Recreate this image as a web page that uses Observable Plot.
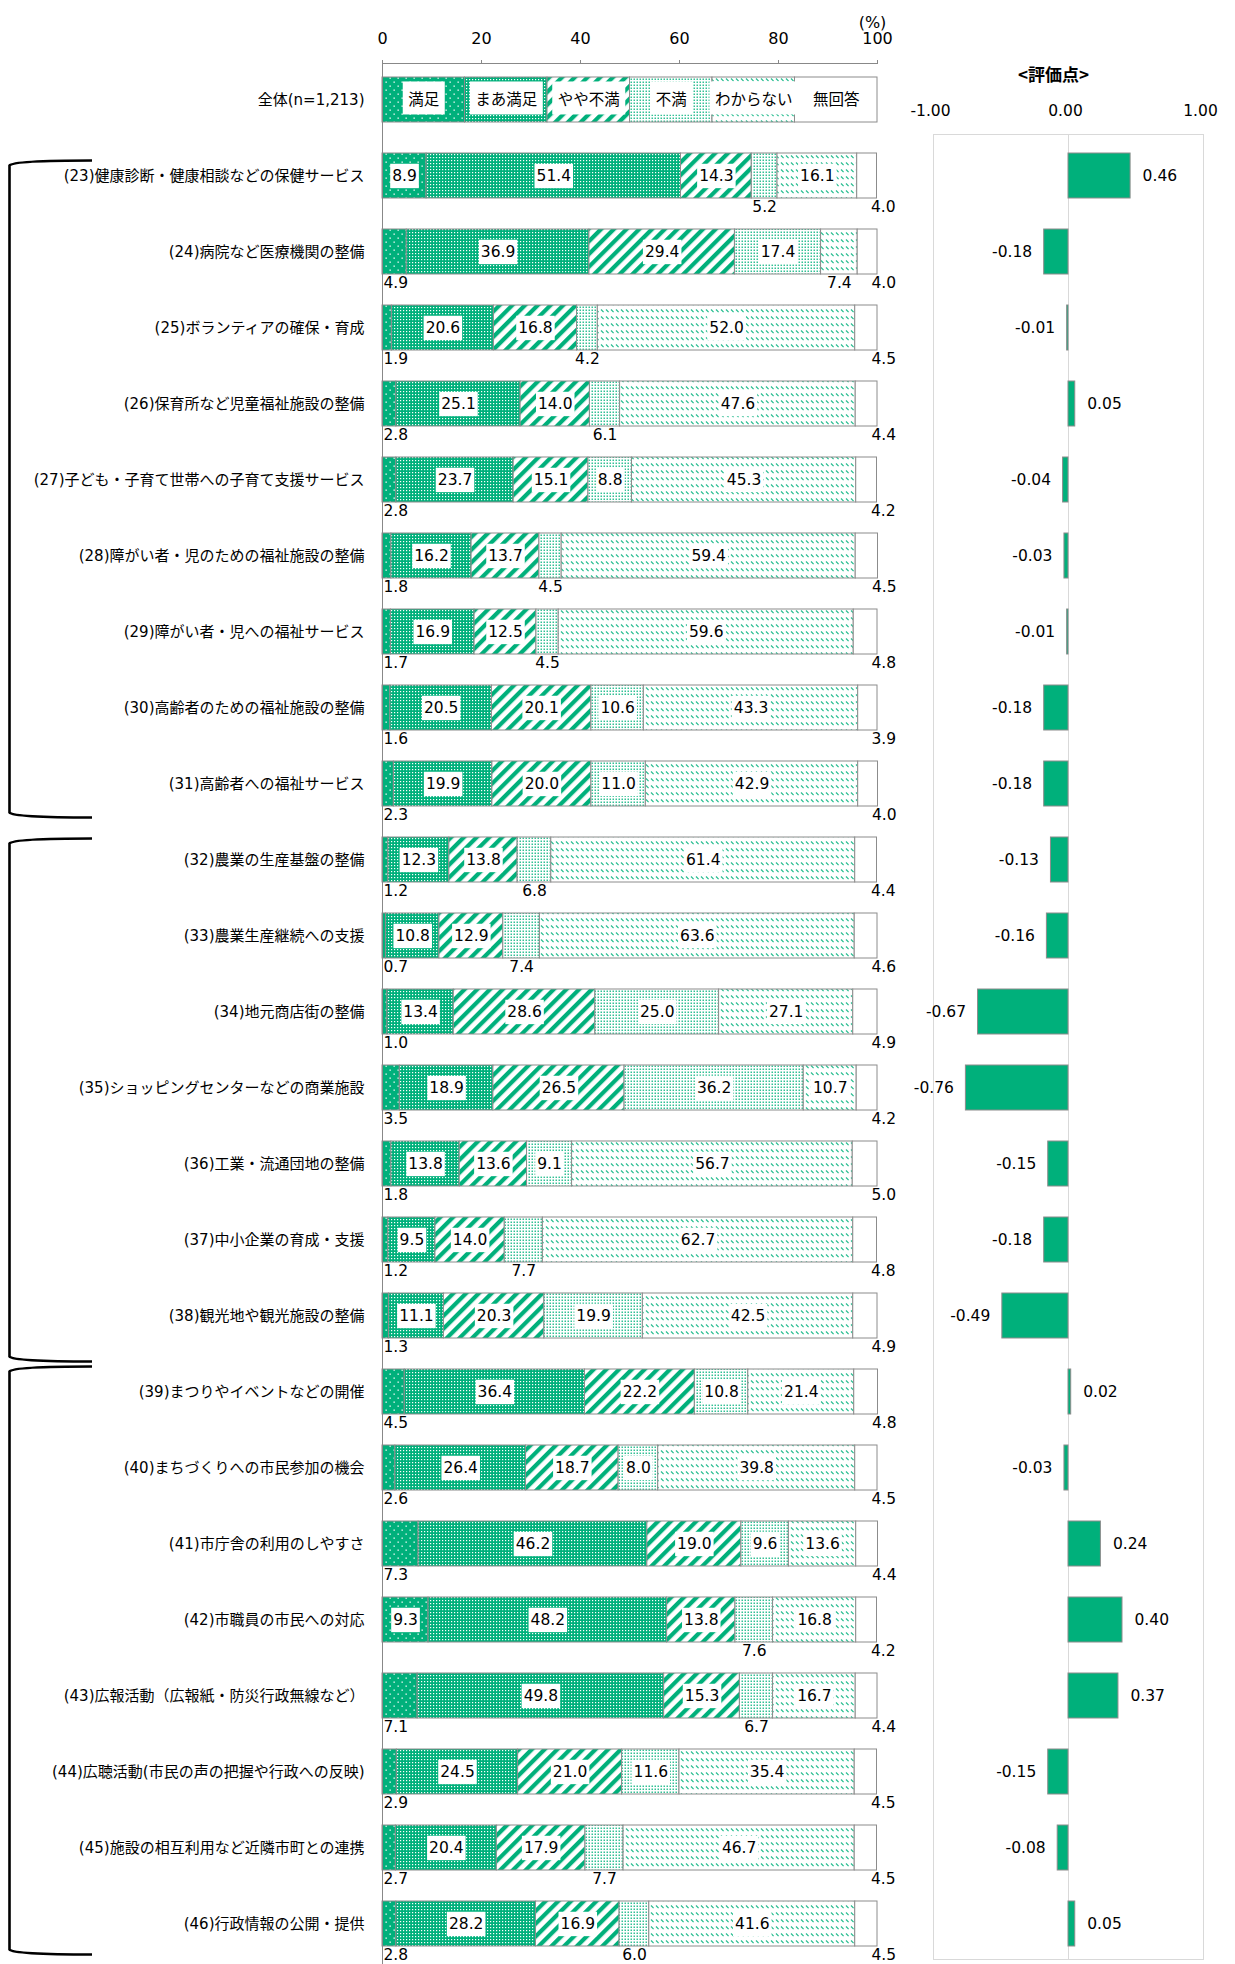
<!DOCTYPE html>
<html><head><meta charset="utf-8">
<script src="https://cdn.jsdelivr.net/npm/d3@7"></script>
<script src="https://cdn.jsdelivr.net/npm/@observablehq/plot@0.6"></script>
<style>
body{margin:0;background:#fff}
#wrap{position:relative;width:1235px;height:1964px;overflow:hidden;background:#fff}
#wrap svg{position:absolute;top:0}
</style>
</head><body><div id="wrap"></div>
<script>
const categories = ["満足","まあ満足","やや不満","不満","わからない","無回答"];
const legendLabel = "全体(n=1,213)";
const items = [
"(23)健康診断・健康相談などの保健サービス",
"(24)病院など医療機関の整備",
"(25)ボランティアの確保・育成",
"(26)保育所など児童福祉施設の整備",
"(27)子ども・子育て世帯への子育て支援サービス",
"(28)障がい者・児のための福祉施設の整備",
"(29)障がい者・児への福祉サービス",
"(30)高齢者のための福祉施設の整備",
"(31)高齢者への福祉サービス",
"(32)農業の生産基盤の整備",
"(33)農業生産継続への支援",
"(34)地元商店街の整備",
"(35)ショッピングセンターなどの商業施設",
"(36)工業・流通団地の整備",
"(37)中小企業の育成・支援",
"(38)観光地や観光施設の整備",
"(39)まつりやイベントなどの開催",
"(40)まちづくりへの市民参加の機会",
"(41)市庁舎の利用のしやすさ",
"(42)市職員の市民への対応",
"(43)広報活動（広報紙・防災行政無線など）",
"(44)広聴活動(市民の声の把握や行政への反映)",
"(45)施設の相互利用など近隣市町との連携",
"(46)行政情報の公開・提供"
];
const satisfied = [8.9,4.9,1.9,2.8,2.8,1.8,1.7,1.6,2.3,1.2,0.7,1.0,3.5,1.8,1.2,1.3,4.5,2.6,7.3,9.3,7.1,2.9,2.7,2.8];
const fairlySatisfied = [51.4,36.9,20.6,25.1,23.7,16.2,16.9,20.5,19.9,12.3,10.8,13.4,18.9,13.8,9.5,11.1,36.4,26.4,46.2,48.2,49.8,24.5,20.4,28.2];
const somewhatDissatisfied = [14.3,29.4,16.8,14.0,15.1,13.7,12.5,20.1,20.0,13.8,12.9,28.6,26.5,13.6,14.0,20.3,22.2,18.7,19.0,13.8,15.3,21.0,17.9,16.9];
const dissatisfied = [5.2,17.4,4.2,6.1,8.8,4.5,4.5,10.6,11.0,6.8,7.4,25.0,36.2,9.1,7.7,19.9,10.8,8.0,9.6,7.6,6.7,11.6,7.7,6.0];
const dontKnow = [16.1,7.4,52.0,47.6,45.3,59.4,59.6,43.3,42.9,61.4,63.6,27.1,10.7,56.7,62.7,42.5,21.4,39.8,13.6,16.8,16.7,35.4,46.7,41.6];
const noAnswer = [4.0,4.0,4.5,4.4,4.2,4.5,4.8,3.9,4.0,4.4,4.6,4.9,4.2,5.0,4.8,4.9,4.8,4.5,4.4,4.2,4.4,4.5,4.5,4.5];
const scores = [0.46,-0.18,-0.01,0.05,-0.04,-0.03,-0.01,-0.18,-0.18,-0.13,-0.16,-0.67,-0.76,-0.15,-0.18,-0.49,0.02,-0.03,0.24,0.40,0.37,-0.15,-0.08,0.05];
const xTicks = [0,20,40,60,80,100];
const scoreTicks = [-1,0,1];
const groups = [
  {from: 0, to: 8, top: -15, bottom: 34},
  {from: 9, to: 15, top: -21, bottom: 46},
  {from: 16, to: 23, top: -25, bottom: 31}
];

const green = "#00b07b";
const cjk = "'Noto Sans CJK JP','Noto Sans',sans-serif";
const num = "'DejaVu Sans','Noto Sans CJK JP',sans-serif";
const patterns = categories.map((c,j) => j === 5 ? "white" : `url(#pat${j})`);
const series = [satisfied, fairlySatisfied, somewhatDissatisfied, dissatisfied, dontKnow, noAnswer];
const rows = items.flatMap((item,i) => categories.map((cat,j) => ({item, cat, j, value: series[j][i]})));
const legendShare = categories.map(() => 100 / categories.length);
const legendRows = categories.map((cat,j) => ({item: legendLabel, cat, j, value: legendShare[j]}));
const scoreRows = items.map((item,i) => ({item, score: scores[i]}));
const yDomain = [legendLabel, ...items];
const yScale = {domain: yDomain, range: [58.9, 1964.9], paddingInner: 0.41, paddingOuter: 0.205};

const bracketMark = (index, scales, values, dimensions) => {
  const g = d3.create("svg:g");
  const bw = scales.y.bandwidth ? scales.y.bandwidth() : 45;
  for (const grp of groups) {
    const T = scales.y(items[grp.from]) + bw/2 + grp.top;
    const B = scales.y(items[grp.to]) + bw/2 + grp.bottom;
    const xl = 9.5, xr = 92;
    g.append("path")
      .attr("d", `M${xr},${T} C${xl+40},${T} ${xl+3},${T+1} ${xl},${T+5} L${xl},${B-5} C${xl+3},${B-1} ${xl+40},${B} ${xr},${B}`)
      .attr("fill","none").attr("stroke","#000").attr("stroke-width",2.6);
  }
  return g.node();
};
const topLine = (index, scales, values, dimensions) => {
  const g = d3.create("svg:g");
  g.append("line")
    .attr("x1", scales.x(xTicks[0])).attr("x2", scales.x(xTicks[xTicks.length-1]))
    .attr("y1", dimensions.marginTop + 0.5).attr("y2", dimensions.marginTop + 0.5)
    .attr("stroke","#888");
  return g.node();
};

const left = Plot.plot({
  width: 900, height: 1964,
  marginLeft: 382, marginRight: 23, marginTop: 63, marginBottom: 0,
  style: {fontFamily: num, fontSize: "15.5px", color: "#000", background: "transparent"},
  color: {type: "identity"},
  x: {domain: [0,100], label: null},
  y: {...yScale, label: null},
  marks: [
    Plot.axisX({anchor: "top", ticks: xTicks, tickSize: 4, tickPadding: 16, fontSize: 16, stroke: "#888", label: null}),
    Plot.axisY({tickSize: 0, tickPadding: 18, fontSize: 15, fontFamily: num, label: null}),
    topLine,
    Plot.barX(legendRows, Plot.stackX({x: "value", y: "item", fill: d => patterns[d.j], stroke: "#8c8c8c", strokeWidth: 1})),
    Plot.barX(rows, Plot.stackX({x: "value", y: "item", fill: d => patterns[d.j], stroke: "#8c8c8c", strokeWidth: 1})),
    Plot.ruleX([0], {stroke: "#888"}),
    Plot.text(legendRows, Plot.stackX({x: "value", y: "item", text: d => d.j < 5 ? d.cat : null, fontFamily: cjk, fontSize: 15.5, className: "boxedLegend", ariaDescription: "boxedLegend"})),
    Plot.text(legendRows, Plot.stackX({x: "value", y: "item", text: d => d.j === 5 ? d.cat : null, fontFamily: cjk, fontSize: 15.5})),
    Plot.text(rows, Plot.stackX({x: "value", y: "item", text: d => d.j < 5 && d.value >= 8 ? d.value.toFixed(1) : null, fontSize: 15.5, className: "boxed", ariaDescription: "boxed"})),
    Plot.text(rows, Plot.stackX({x: "value", y: "item", text: d => d.j > 0 && d.j < 5 && d.value < 8 ? d.value.toFixed(1) : null, fontSize: 15.5, dy: 31})),
    Plot.text(rows, Plot.stackX1({x: "value", y: "item", text: d => d.j === 0 && d.value < 8 ? d.value.toFixed(1) : null, fontSize: 15.5, dy: 31, dx: 1, textAnchor: "start"})),
    Plot.text(rows, Plot.stackX2({x: "value", y: "item", text: d => d.j === 5 ? d.value.toFixed(1) : null, fontSize: 15.5, dy: 31, dx: -6, textAnchor: "start"})),
    Plot.text(["(%)"], {x: () => 100, text: d => d, frameAnchor: "top", dy: -47, dx: -5, fontSize: 16}),
    bracketMark
  ]
});

const right = Plot.plot({
  width: 335, height: 1964,
  marginLeft: 33, marginRight: 32, marginTop: 134, marginBottom: 5,
  style: {fontFamily: num, fontSize: "15.5px", color: "#000", background: "transparent"},
  x: {domain: [scoreTicks[0], scoreTicks[2]], label: null},
  y: {...yScale, axis: null, label: null},
  marks: [
    Plot.frame({stroke: "#d9d9d9"}),
    Plot.ruleX([0], {stroke: "#d9d9d9"}),
    Plot.axisX({anchor: "top", ticks: scoreTicks, tickFormat: d => d.toFixed(2), tickSize: 0, tickPadding: 19, fontSize: 15.5, dx: -3, label: null}),
    Plot.barX(scoreRows, {x: "score", y: "item", fill: green, stroke: "#8c8c8c", strokeWidth: 1}),
    Plot.text(scoreRows.filter(d => d.score >= 0), {x: "score", y: "item", text: d => d.score.toFixed(2), textAnchor: "start", dx: 12, fontSize: 15.5}),
    Plot.text(scoreRows.filter(d => d.score < 0), {x: "score", y: "item", text: d => d.score.toFixed(2), textAnchor: "end", dx: -12, fontSize: 15.5}),
    Plot.text(["<評価点>"], {text: d => d, frameAnchor: "top", dy: -66, dx: -15, fontSize: 17, fontWeight: "bold", fontFamily: cjk})
  ]
});

const wrap = document.getElementById("wrap");
left.style.left = "0px";
right.style.left = "900px";
wrap.appendChild(left);
wrap.appendChild(right);

// pattern definitions
const NS = "http://www.w3.org/2000/svg";
const defs = document.createElementNS(NS, "defs");
defs.innerHTML = `
<pattern id="pat0" patternUnits="userSpaceOnUse" width="8" height="8">
  <rect width="8" height="8" fill="${green}"/>
  <rect x="1.5" y="1.5" width="1.3" height="1.3" fill="#fff"/>
  <rect x="5.5" y="5.5" width="1.3" height="1.3" fill="#fff"/>
</pattern>
<pattern id="pat1" patternUnits="userSpaceOnUse" width="3" height="3">
  <rect width="3" height="3" fill="${green}"/>
  <rect x="1" y="1" width="1.2" height="1.2" fill="#fff"/>
</pattern>
<pattern id="pat2" patternUnits="userSpaceOnUse" width="9" height="9" patternTransform="rotate(45)">
  <rect width="9" height="9" fill="#fff"/>
  <rect width="4.2" height="9" fill="${green}"/>
</pattern>
<pattern id="pat3" patternUnits="userSpaceOnUse" width="3" height="3">
  <rect width="3" height="3" fill="#fff"/>
  <rect x="0.5" y="0.5" width="1.5" height="1.5" fill="${green}" fill-opacity="0.8"/>
</pattern>
<pattern id="pat4" patternUnits="userSpaceOnUse" width="5" height="7">
  <rect width="5" height="7" fill="#fff"/>
  <line x1="1" y1="1.5" x2="3.6" y2="4.1" stroke="${green}" stroke-width="1.2" stroke-opacity="0.85"/>
</pattern>`;
left.insertBefore(defs, left.firstChild);

function addBoxes(svg, label, px, py) {
  const sel = `g.${label} text, g[aria-description="${label}"] text`;
  svg.querySelectorAll(sel).forEach(t => {
    const b = t.getBBox();
    if (!b.width) return;
    const r = document.createElementNS(NS, "rect");
    r.setAttribute("x", b.x - px);
    r.setAttribute("y", b.y - py);
    r.setAttribute("width", b.width + 2*px);
    r.setAttribute("height", b.height + 2*py);
    r.setAttribute("fill", "#fff");
    const tr = t.getAttribute("transform");
    if (tr) r.setAttribute("transform", tr);
    t.parentNode.insertBefore(r, t);
  });
}
addBoxes(left, "boxed", 2, 3.2);
addBoxes(left, "boxedLegend", 5.5, 5.5);
</script>
</body></html>
